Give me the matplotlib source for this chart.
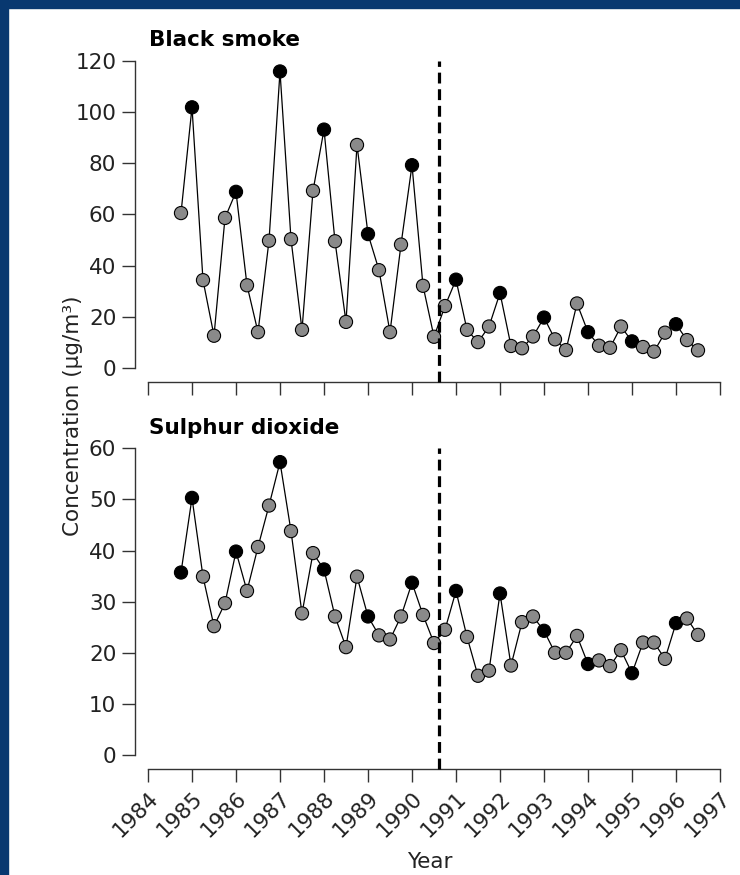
import matplotlib.pyplot as plt
from matplotlib.patches import Rectangle
import numpy as np

# quarterly readings, first quarter shown is late 1984
quarters = np.arange(1984.75, 1996.51, 0.25)

smoke = [60.5, 101.8, 34.3, 12.6, 58.6, 68.8, 32.3, 14.0, 49.7, 115.8,
         50.3, 14.9, 69.2, 93.1, 49.5, 18.0, 87.1, 52.3, 38.2, 14.0,
         48.2, 79.2, 32.1, 12.2, 24.2, 34.5, 14.9, 10.1, 16.2, 29.3,
         8.6, 7.7, 12.3, 19.7, 11.2, 7.0, 25.2, 14.0, 8.7, 7.9,
         16.2, 10.4, 8.2, 6.4, 13.8, 17.1, 10.9, 6.9]

so2 = [35.7, 50.3, 34.9, 25.2, 29.7, 39.8, 32.1, 40.7, 48.8, 57.3,
       43.8, 27.7, 39.5, 36.3, 27.1, 21.1, 34.9, 27.1, 23.4, 22.6,
       27.1, 33.7, 27.4, 21.9, 24.5, 32.1, 23.1, 15.5, 16.5, 31.6,
       17.5, 26.0, 27.1, 24.3, 20.0, 20.0, 23.3, 17.8, 18.5, 17.4,
       20.5, 16.0, 22.0, 22.0, 18.8, 25.8, 26.7, 23.5]

# indices of the points drawn in black
smoke_black = [1, 5, 9, 13, 17, 21, 25, 29, 33, 37, 41, 45]
so2_black = [0, 1, 5, 9, 13, 17, 21, 25, 29, 33, 37, 41, 45]

ban_date = 1990.62
year_ticks = list(range(1984, 1998))

W, H = 740, 875
fig = plt.figure(figsize=(W / 100, H / 100), dpi=100)
fig.patch.set_facecolor('white')

# navy frame on the left and top
navy = '#083870'
fig.patches.append(Rectangle((0, 0), 8 / W, 1, transform=fig.transFigure, color=navy, zorder=0))
fig.patches.append(Rectangle((0, 1 - 8 / H), 1, 8 / H, transform=fig.transFigure, color=navy, zorder=0))

txt = '#222222'
fsize = 15.5

ax1 = fig.add_axes([148 / W, 1 - 368 / H, 572 / W, 307.3 / H])
ax2 = fig.add_axes([148 / W, 1 - 755 / H, 572 / W, 306.7 / H])

panels = [(ax1, smoke, smoke_black, 120, 'Black smoke'),
          (ax2, so2, so2_black, 60, 'Sulphur dioxide')]

for ax, vals, black, top, title in panels:
    vals = np.array(vals)
    colors = ['black' if i in black else '#8a8a8a' for i in range(len(vals))]
    ax.plot(quarters, vals, color='black', lw=0.9, zorder=2, clip_on=False)
    ax.scatter(quarters, vals, s=90, c=colors, edgecolors='black',
               linewidths=0.8, zorder=3, clip_on=False)
    ax.plot([ban_date, ban_date], [-top / 20 * 0.93, top], color='black',
            lw=2.3, dashes=(3.4, 1.8), zorder=4, clip_on=False)

    ax.set_xlim(1984, 1997)
    ax.set_ylim(0, top)
    ax.set_xticks(year_ticks)
    ax.set_yticks(np.arange(0, top + 1, 20 if top == 120 else 10))
    for s in ['top', 'right']:
        ax.spines[s].set_visible(False)
    ax.spines['left'].set_position(('outward', 9.4))
    ax.spines['bottom'].set_position(('outward', 10))
    ax.spines['left'].set_bounds(0, top)
    ax.spines['bottom'].set_bounds(1984, 1997)
    for s in ['left', 'bottom']:
        ax.spines[s].set_color('#333333')
        ax.spines[s].set_linewidth(1.0)
    ax.tick_params(axis='both', direction='out', length=9.4, width=1.0,
                   color='#333333', labelsize=fsize, labelcolor=txt, pad=4)
    ax.patch.set_alpha(0)
    ax.text(1984.02, top * 1.035, title, fontsize=15.5, fontweight='bold',
            color='black', va='bottom', ha='left', transform=ax.transData)

ax1.tick_params(axis='x', labelbottom=False)
ax2.set_xticklabels([str(y) for y in year_ticks], rotation=45, ha='right',
                    rotation_mode='anchor')

fig.text(73 / W, 1 - 416 / H, 'Concentration (\u00b5g/m\u00b3)', rotation=90,
         fontsize=fsize, color=txt, ha='center', va='center')
fig.text(430 / W, 1 - 862 / H, 'Year', fontsize=fsize, color=txt,
         ha='center', va='center')

fig.savefig('out.png', dpi=100, facecolor='white')
